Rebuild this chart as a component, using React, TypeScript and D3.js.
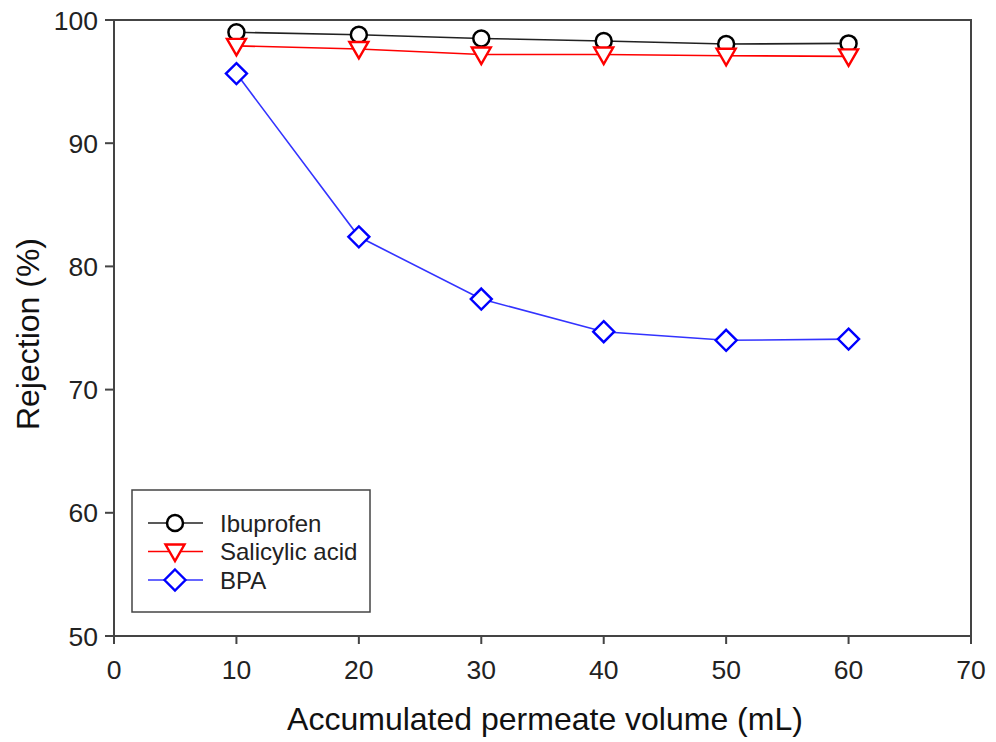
import React from "react";
import * as d3 from "d3";

const volumes = [10, 20, 30, 40, 50, 60];
const ibuprofen = [99.0, 98.8, 98.5, 98.3, 98.05, 98.1];
const salicylic = [97.9, 97.65, 97.2, 97.2, 97.1, 97.05];
const bpa = [95.65, 82.4, 77.35, 74.7, 74.0, 74.1];
const xTicks = [0, 10, 20, 30, 40, 50, 60, 70];
const yTicks = [50, 60, 70, 80, 90, 100];
const seriesNames = ["Ibuprofen", "Salicylic acid", "BPA"];

const W = 996, H = 742;
const L = 114, R = 971, T = 20, B = 636;

function Marker({ type, x, y, color }: { type: string; x: number; y: number; color: string }) {
  if (type === "circle") return <circle cx={x} cy={y} r={8} fill="white" stroke={color} strokeWidth={2.5} />;
  if (type === "tri") {
    const p = `${x - 9.5},${y - 7} ${x + 9.5},${y - 7} ${x},${y + 9.5}`;
    return <polygon points={p} fill="white" stroke={color} strokeWidth={2.4} />;
  }
  const p = `${x},${y - 10.5} ${x + 10.5},${y} ${x},${y + 10.5} ${x - 10.5},${y}`;
  return <polygon points={p} fill="white" stroke={color} strokeWidth={2.4} />;
}

export default function App() {
  const x = d3.scaleLinear().domain([0, 70]).range([L, R]);
  const y = d3.scaleLinear().domain([50, 100]).range([B, T]);
  const line = d3.line<number>().x((_, i) => x(volumes[i])).y((d) => y(d));
  const series = [
    { name: seriesNames[0], data: ibuprofen, color: "#000000", type: "circle", lc: "#222" },
    { name: seriesNames[1], data: salicylic, color: "#ff0000", type: "tri", lc: "#ff0000" },
    { name: seriesNames[2], data: bpa, color: "#0000ff", type: "diamond", lc: "#3333ff" },
  ];
  const font = "Arial, 'Liberation Sans', sans-serif";
  return (
    <svg width={W} height={H} style={{ position: "absolute", left: 0, top: 0 }} fontFamily={font}>
      <rect x={0} y={0} width={W} height={H} fill="white" />
      {series.map((s) => (
        <path key={s.name} d={line(s.data) || ""} fill="none" stroke={s.lc} strokeWidth={1.6} />
      ))}
      {series.map((s) =>
        s.data.map((v, i) => <Marker key={s.name + i} type={s.type} x={x(volumes[i])} y={y(v)} color={s.color} />)
      )}
      <rect x={L} y={T} width={R - L} height={B - T} fill="none" stroke="#444" strokeWidth={2} />
      {xTicks.map((t) => (
        <g key={"x" + t}>
          <line x1={x(t)} x2={x(t)} y1={B} y2={B + 8} stroke="#444" strokeWidth={2} />
          <text x={x(t)} y={B + 43} textAnchor="middle" fontSize={26.5} fill="#222">{t}</text>
        </g>
      ))}
      {yTicks.map((t) => (
        <g key={"y" + t}>
          <line x1={L - 9} x2={L} y1={y(t)} y2={y(t)} stroke="#444" strokeWidth={2} />
          <text x={L - 16} y={y(t) + 9.5} textAnchor="end" fontSize={26.5} fill="#222">{t}</text>
        </g>
      ))}
      <text x={545} y={730} textAnchor="middle" fontSize={32} fill="#111">Accumulated permeate volume (mL)</text>
      <text transform={`translate(39,334) rotate(-90)`} textAnchor="middle" fontSize={32} fill="#111">Rejection (%)</text>
      <rect x={132} y={490} width={238} height={122} fill="white" stroke="#444" strokeWidth={1.5} />
      {series.map((s, i) => {
        const ly = 523 + i * 28.5;
        return (
          <g key={"lg" + s.name}>
            <line x1={148} x2={203} y1={ly} y2={ly} stroke={s.lc} strokeWidth={1.6} />
            <Marker type={s.type} x={175} y={ly} color={s.color} />
            <text x={220} y={ly + 8.5} fontSize={24} fill="#222">{s.name}</text>
          </g>
        );
      })}
    </svg>
  );
}
